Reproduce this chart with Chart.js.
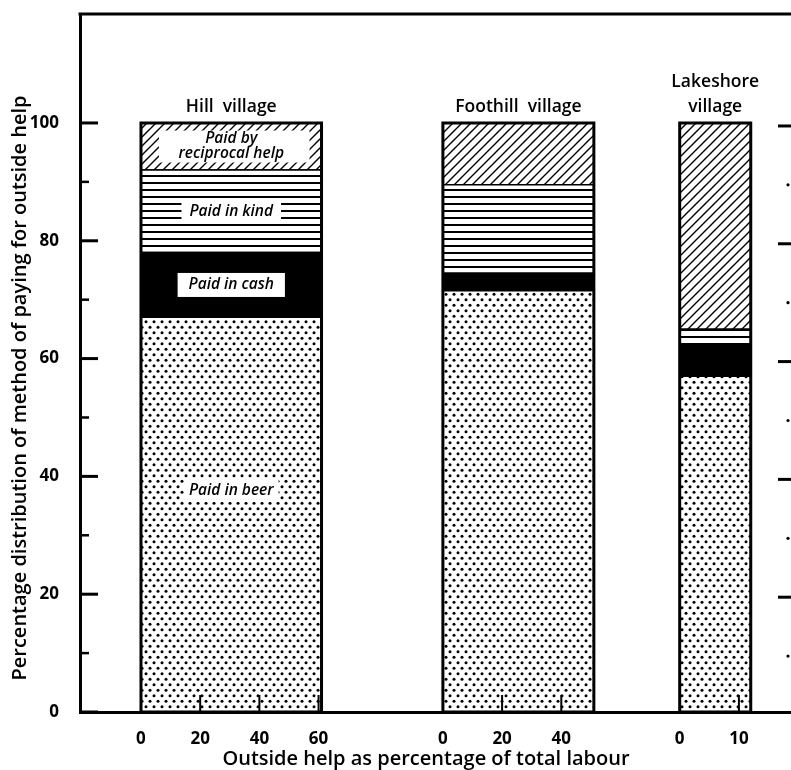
<!DOCTYPE html>
<html><head><meta charset="utf-8">
<script src="https://cdn.jsdelivr.net/npm/chart.js@4.4.1/dist/chart.umd.min.js"></script>
<style>html,body{margin:0;padding:0;background:#fff;}</style>
</head><body>
<canvas id="c" width="791" height="770"></canvas>
<script>
// ---------- data ----------
const villages = ['Hill village', 'Foothill village', 'Lakeshore village'];
const outsideHelpPct = [61, 51, 12];          // bar widths: outside help as % of total labour
const paidInBeer = [67, 71.5, 57];
const paidInCash = [11, 3, 5.5];
const paidInKind = [14, 15, 2.5];
const paidByReciprocal = [8, 10.5, 35];
const segmentNames = ['Paid in beer', 'Paid in cash', 'Paid in kind', 'Paid by reciprocal help'];
const xTickLabels = [[0, 20, 40, 60], [0, 20, 40], [0, 10]];
const yTickLabels = [0, 20, 40, 60, 80, 100];
const yMinorTicks = [10, 30, 50, 70, 90];
const xTitle = 'Outside help as percentage of total labour';
const yTitle = 'Percentage distribution of method of paying for outside help';

// ---------- layout (positions of each village block on the shared x axis) ----------
const groupStart = [0, 102, 182];
const groupScale = [1, 1, 2];
const FONT = '"Open Sans"';

const canvas = document.getElementById('c');
const cctx = canvas.getContext('2d');

function makePattern(kind) {
  const t = document.createElement('canvas');
  const g = t.getContext('2d');
  if (kind === 'dots') {
    t.width = 8; t.height = 11;
    g.fillStyle = '#fff'; g.fillRect(0, 0, 8, 11);
    g.fillStyle = '#000';
    [[2, 2.75], [6, 8.25]].forEach(([px, py]) => { g.beginPath(); g.arc(px, py, 1.5, 0, Math.PI * 2); g.fill(); });
  } else if (kind === 'hlines') {
    t.width = 4; t.height = 7;
    g.fillStyle = '#fff'; g.fillRect(0, 0, 4, 7);
    g.fillStyle = '#000'; g.fillRect(0, 0, 4, 2);
  } else if (kind === 'hatch') {
    t.width = 9; t.height = 9;
    g.fillStyle = '#fff'; g.fillRect(0, 0, 9, 9);
    g.strokeStyle = '#000'; g.lineWidth = 1.4;
    g.beginPath();
    g.moveTo(-1, 10); g.lineTo(10, -1);
    g.moveTo(-1, 1); g.lineTo(1, -1);
    g.moveTo(8, 10); g.lineTo(10, 8);
    g.stroke();
  }
  return cctx.createPattern(t, 'repeat');
}
const segmentValues = [paidInBeer, paidInCash, paidInKind, paidByReciprocal];
const segmentFills = [makePattern('dots'), '#000', makePattern('hlines'), makePattern('hatch')];

function xPos(g, v) { return groupStart[g] + v * groupScale[g]; }

// build datasets: outlines first (drawn on top), then segments
const datasets = [];
villages.forEach((name, g) => {
  const x0 = xPos(g, 0), x1 = xPos(g, outsideHelpPct[g]);
  let total = 0; segmentValues.forEach(s => total += s[g]);
  datasets.push({
    label: name + ' outline',
    data: [{x: x0, y: 0}, {x: x0, y: total}, {x: x1, y: total}, {x: x1, y: 0}, {x: x0, y: 0}],
    showLine: true, fill: false, borderColor: '#000', borderWidth: 3,
    pointRadius: 0, tension: 0, borderJoinStyle: 'miter'
  });
});
villages.forEach((name, g) => {
  const x0 = xPos(g, 0), x1 = xPos(g, outsideHelpPct[g]);
  let base = 0;
  segmentValues.forEach((s, k) => {
    const top = base + s[g];
    datasets.push({
      label: name + ' ' + segmentNames[k],
      data: [{x: x0, y: base}, {x: x0, y: top}, {x: x1, y: top}, {x: x1, y: base}, {x: x0, y: base}],
      showLine: true, fill: 'shape', backgroundColor: segmentFills[k],
      borderColor: '#000', borderWidth: 1.5, pointRadius: 0, tension: 0
    });
    base = top;
  });
});

// x tick positions on the shared axis
const xTicks = [];
xTickLabels.forEach((arr, g) => arr.forEach(v => xTicks.push({value: xPos(g, v), label: String(v), g, v})));

const decorPlugin = {
  id: 'decor',
  afterDatasetsDraw(chart) {
    const {ctx, chartArea: a, scales: {x, y}} = chart;
    ctx.save();
    ctx.strokeStyle = '#000'; ctx.fillStyle = '#000';
    // top frame line
    ctx.lineWidth = 3;
    ctx.beginPath(); ctx.moveTo(a.left - 1.5, a.top); ctx.lineTo(a.right, a.top); ctx.stroke();
    // inward y ticks (left) and right-hand ticks
    yTickLabels.forEach(v => {
      const py = y.getPixelForValue(v);
      ctx.lineWidth = 3;
      ctx.beginPath(); ctx.moveTo(a.left, py); ctx.lineTo(a.left + 18, py); ctx.stroke();
      if (v > 0) { ctx.beginPath(); ctx.moveTo(a.right - 13, py + 3); ctx.lineTo(a.right, py + 3); ctx.stroke(); }
    });
    yMinorTicks.forEach(v => {
      const py = y.getPixelForValue(v);
      ctx.lineWidth = 2.5;
      ctx.beginPath(); ctx.moveTo(a.left, py); ctx.lineTo(a.left + 9, py); ctx.stroke();
      ctx.beginPath(); ctx.arc(a.right - 3, py + 3, 1.6, 0, Math.PI * 2); ctx.fill();
    });
    // upward x ticks inside bars
    ctx.lineWidth = 2;
    xTicks.forEach(t => {
      if (t.v === 0) return;
      const px = x.getPixelForValue(t.value);
      ctx.beginPath(); ctx.moveTo(px, a.bottom); ctx.lineTo(px, a.bottom - 17); ctx.stroke();
    });
    // village titles
    ctx.font = '600 17.5px ' + FONT;
    ctx.textAlign = 'center'; ctx.textBaseline = 'middle';
    villages.forEach((name, g) => {
      const cx = (x.getPixelForValue(xPos(g, 0)) + x.getPixelForValue(xPos(g, outsideHelpPct[g]))) / 2;
      const w = x.getPixelForValue(xPos(g, outsideHelpPct[g])) - x.getPixelForValue(xPos(g, 0));
      const py = y.getPixelForValue(100) - 16;
      if (ctx.measureText(name).width > w + 20) {
        const parts = name.split(' ');
        ctx.fillText(parts[0], cx, py - 25);
        ctx.fillText(parts.slice(1).join(' '), cx, py);
      } else {
        ctx.fillText(name.replace(' ', '  '), cx, py);
      }
    });
    // segment labels on first village
    const g = 0;
    const bx0 = x.getPixelForValue(xPos(g, 0)), bx1 = x.getPixelForValue(xPos(g, outsideHelpPct[g]));
    const cx = (bx0 + bx1) / 2;
    ctx.font = 'italic 600 15.5px ' + FONT;
    let base = 0;
    const frac = [0.56, 0.5, 0.5, 0.5];
    const pads = [[5, 3], [11, 4], [8, 2], [0, 0]];
    segmentValues.forEach((s, k) => {
      const cy = y.getPixelForValue(base + s[g] * frac[k]);
      base += s[g];
      const name = segmentNames[k];
      const lines = name.indexOf(' by ') > 0 ? [name.slice(0, name.indexOf(' by ') + 3), name.slice(name.indexOf(' by ') + 4)] : [name];
      const lh = 15;
      const tw = Math.max(...lines.map(l => ctx.measureText(l).width));
      ctx.fillStyle = '#fff';
      if (lines.length > 1) {
        ctx.fillRect(bx0 + 18, cy - lines.length * lh / 2 - 1, (bx1 - bx0) - 30, lines.length * lh + 2);
      } else {
        ctx.fillRect(cx - tw / 2 - pads[k][0], cy - 8 - pads[k][1], tw + 2 * pads[k][0], 16 + 2 * pads[k][1]);
      }
      ctx.fillStyle = '#000';
      lines.forEach((l, i) => ctx.fillText(l, cx, cy + (i - (lines.length - 1) / 2) * lh));
    });
    // axis titles
    ctx.font = '600 20px ' + FONT;
    ctx.textAlign = 'center'; ctx.textBaseline = 'middle';
    ctx.fillText(xTitle, 426, 759);
    ctx.save();
    ctx.translate(20, 388);
    ctx.rotate(-Math.PI / 2);
    ctx.fillText(yTitle, 0, 0);
    ctx.restore();
    ctx.restore();
  }
};

new Chart(canvas, {
  type: 'scatter',
  data: {datasets},
  options: {
    responsive: false, animation: false, devicePixelRatio: 1,
    layout: {padding: {top: 14, right: 0, left: 0, bottom: 0}},
    plugins: {legend: {display: false}, tooltip: {enabled: false}},
    scales: {
      x: {
        type: 'linear', min: -20.6, max: 219.6,
        afterBuildTicks: s => { s.ticks = xTicks.map(t => ({value: t.value})); },
        afterFit: s => { s.height = 58; s.paddingLeft = 0; s.paddingRight = 0; },
        grid: {display: false},
        border: {display: true, color: '#000', width: 3},
        ticks: {
          autoSkip: false, maxRotation: 0, padding: 9, color: '#000',
          font: {family: FONT, size: 17, weight: 'bold'},
          callback: (v) => { const t = xTicks.find(t => Math.abs(t.value - v) < 1e-6); return t ? t.label : ''; }
        },
        title: {display: false}
      },
      y: {
        type: 'linear', min: 0, max: 118.5,
        afterBuildTicks: s => { s.ticks = yTickLabels.map(v => ({value: v})); },
        afterFit: s => { s.width = 80; s.paddingTop = 0; s.paddingBottom = 0; },
        grid: {display: false},
        border: {display: true, color: '#000', width: 3},
        ticks: {padding: 13, color: '#000', font: {family: FONT, size: 17, weight: 'bold'}}
      }
    }
  },
  plugins: [decorPlugin]
});
</script>
</body></html>
